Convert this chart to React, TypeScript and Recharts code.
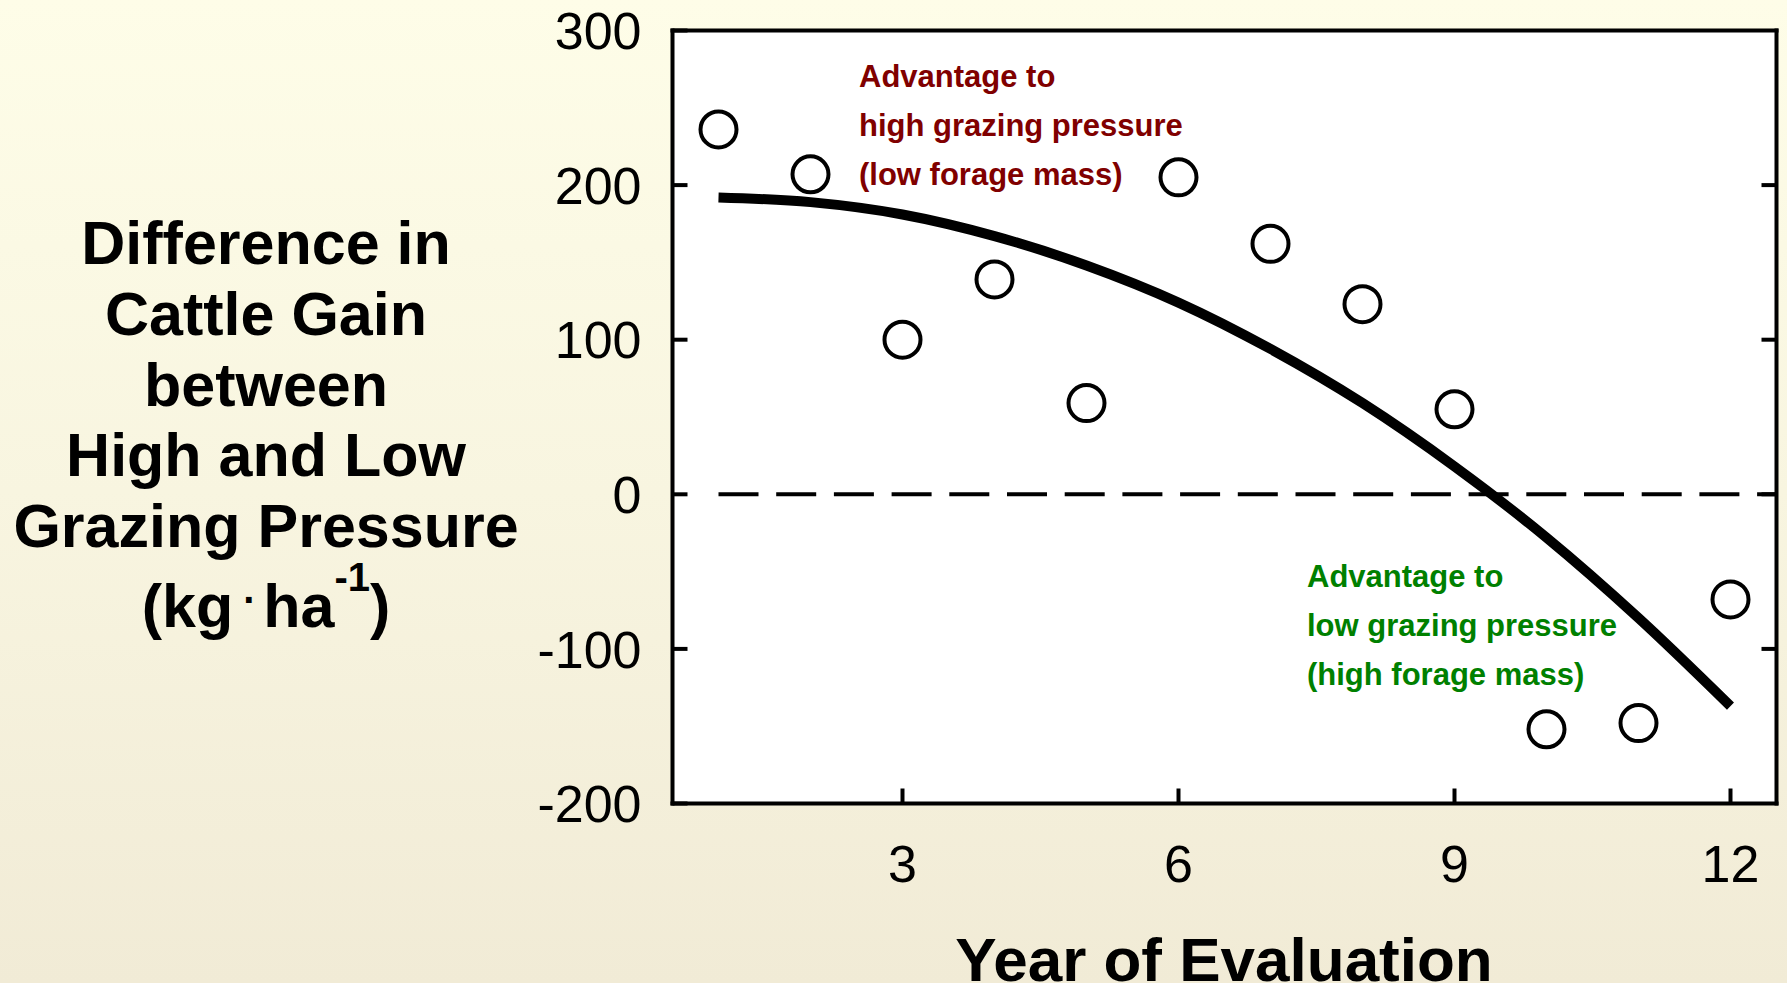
import React from 'react';
import { ComposedChart, Line, XAxis, YAxis, ReferenceLine, ReferenceArea } from 'recharts';

const years = [1, 2, 3, 4, 5, 6, 7, 8, 9, 10, 11, 12];
const observed = [236, 207, 100, 139, 59, 205, 162, 123, 55, -152, -148, -68];
const fitted = [192, 189, 181, 167, 148, 124, 94, 59, 18, -28, -80, -137];
const yTicks = [-200, -100, 0, 100, 200, 300];
const rightTicks = [-100, 0, 100, 200];
const xTicks = [3, 6, 9, 12];
const yTitleLines = ['Difference in', 'Cattle Gain', 'between', 'High and Low', 'Grazing Pressure'];
const redNote = ['Advantage to', 'high grazing pressure', '(low forage mass)'];
const greenNote = ['Advantage to', 'low grazing pressure', '(high forage mass)'];
const xTitle = 'Year of Evaluation';

const data = years.map((y, i) => ({ year: y, obs: observed[i], fit: fitted[i] }));

const FONT = '"Liberation Sans", Arial, Helvetica, sans-serif';

const LeftTick = (props: any) => {
  const { x, y, payload } = props;
  return (
    <g>
      <line x1={x + 31} x2={x + 46} y1={y} y2={y} stroke="#000" strokeWidth={4} />
      <text x={x} y={y} dy="0.36em" textAnchor="end" fontSize={52} fontFamily={FONT} fill="#000">
        {payload.value}
      </text>
    </g>
  );
};

const RightTick = (props: any) => {
  const { x, y } = props;
  return <line x1={x} x2={x - 15} y1={y} y2={y} stroke="#000" strokeWidth={4} />;
};

const BottomTick = (props: any) => {
  const { x, y, payload } = props;
  return (
    <g>
      <line x1={x} x2={x} y1={y} y2={y - 15} stroke="#000" strokeWidth={4} />
      <text x={x} y={y + 60} dy="0.36em" textAnchor="middle" fontSize={52} fontFamily={FONT} fill="#000">
        {payload.value}
      </text>
    </g>
  );
};

const Titles = () => (
  <g fontFamily={FONT} fontWeight="bold">
    {yTitleLines.map((t, i) => (
      <text key={t} x={266} y={264 + i * 70.8} textAnchor="middle" fontSize={61} fill="#000">
        {t}
      </text>
    ))}
    <text x={266} y={627} textAnchor="middle" fontSize={61} fill="#000">
      (kg
      <tspan fontSize={40} dx={10} dy={-24}>.</tspan>
      <tspan fontSize={61} dx={9} dy={24}>ha</tspan>
      <tspan fontSize={40} dy={-36}>-1</tspan>
      <tspan fontSize={61} dy={36}>)</tspan>
    </text>
    <text x={1224} y={981} textAnchor="middle" fontSize={62} fill="#000">
      {xTitle}
    </text>
  </g>
);

const Notes = () => (
  <g fontFamily={FONT} fontWeight="bold">
    {redNote.map((t, i) => (
      <text key={'r' + i} x={859} y={87 + i * 49} fontSize={31} fill="#800000">
        {t}
      </text>
    ))}
    {greenNote.map((t, i) => (
      <text key={'g' + i} x={1307} y={587 + i * 49} fontSize={31} fill="#008000">
        {t}
      </text>
    ))}
  </g>
);

export default function App() {
  return (
    <div
      style={{
        position: 'absolute',
        left: 0,
        top: 0,
        width: 1787,
        height: 983,
        background: 'linear-gradient(to bottom, #FEFDE8 0%, #F8F5E0 50%, #F1EBD6 100%)',
        overflow: 'hidden',
      }}
    >
      <ComposedChart
        width={1787}
        height={983}
        data={data}
        margin={{ top: 20.5, right: 0.5, bottom: 79.5, left: 572.5 }}
      >
        <ReferenceArea
          x1={0.5}
          x2={12.5}
          y1={-200}
          y2={300}
          fill="#ffffff"
          fillOpacity={1}
          stroke="none"
          label={() => <Notes />}
        />
        <XAxis
          dataKey="year"
          type="number"
          domain={[0.5, 12.5]}
          ticks={xTicks}
          interval={0}
          height={100}
          tickSize={0}
          tickMargin={0}
          tickLine={false}
          tick={BottomTick}
          axisLine={{ stroke: '#000', strokeWidth: 4, strokeLinecap: 'square' }}
          allowDataOverflow
        />
        <XAxis
          xAxisId="top"
          orientation="top"
          type="number"
          domain={[0.5, 12.5]}
          height={10}
          tick={false}
          tickLine={false}
          axisLine={{ stroke: '#000', strokeWidth: 4, strokeLinecap: 'square' }}
          allowDataOverflow
        />
        <YAxis
          type="number"
          domain={[-200, 300]}
          ticks={yTicks}
          interval={0}
          width={100}
          tickSize={0}
          tickMargin={31}
          tickLine={false}
          tick={LeftTick}
          axisLine={{ stroke: '#000', strokeWidth: 4, strokeLinecap: 'square' }}
          allowDataOverflow
        />
        <YAxis
          yAxisId="right"
          orientation="right"
          type="number"
          domain={[-200, 300]}
          ticks={rightTicks}
          interval={0}
          width={10}
          tickSize={0}
          tickMargin={0}
          tickLine={false}
          tick={RightTick}
          axisLine={{ stroke: '#000', strokeWidth: 4, strokeLinecap: 'square' }}
          allowDataOverflow
        />
        <ReferenceLine
          segment={[{ x: 1, y: 0 }, { x: 12.5, y: 0 }]}
          stroke="#000"
          strokeWidth={4}
          strokeDasharray="40 17.7"
        />
        <Line
          dataKey="fit"
          type="monotone"
          stroke="#000"
          strokeWidth={10}
          dot={false}
          activeDot={false}
          isAnimationActive={false}
        />
        <Line
          dataKey="obs"
          stroke="none"
          dot={{ r: 18, stroke: '#000', strokeWidth: 4, fill: '#fff' }}
          activeDot={false}
          isAnimationActive={false}
        />
        <Titles />
      </ComposedChart>
    </div>
  );
}
